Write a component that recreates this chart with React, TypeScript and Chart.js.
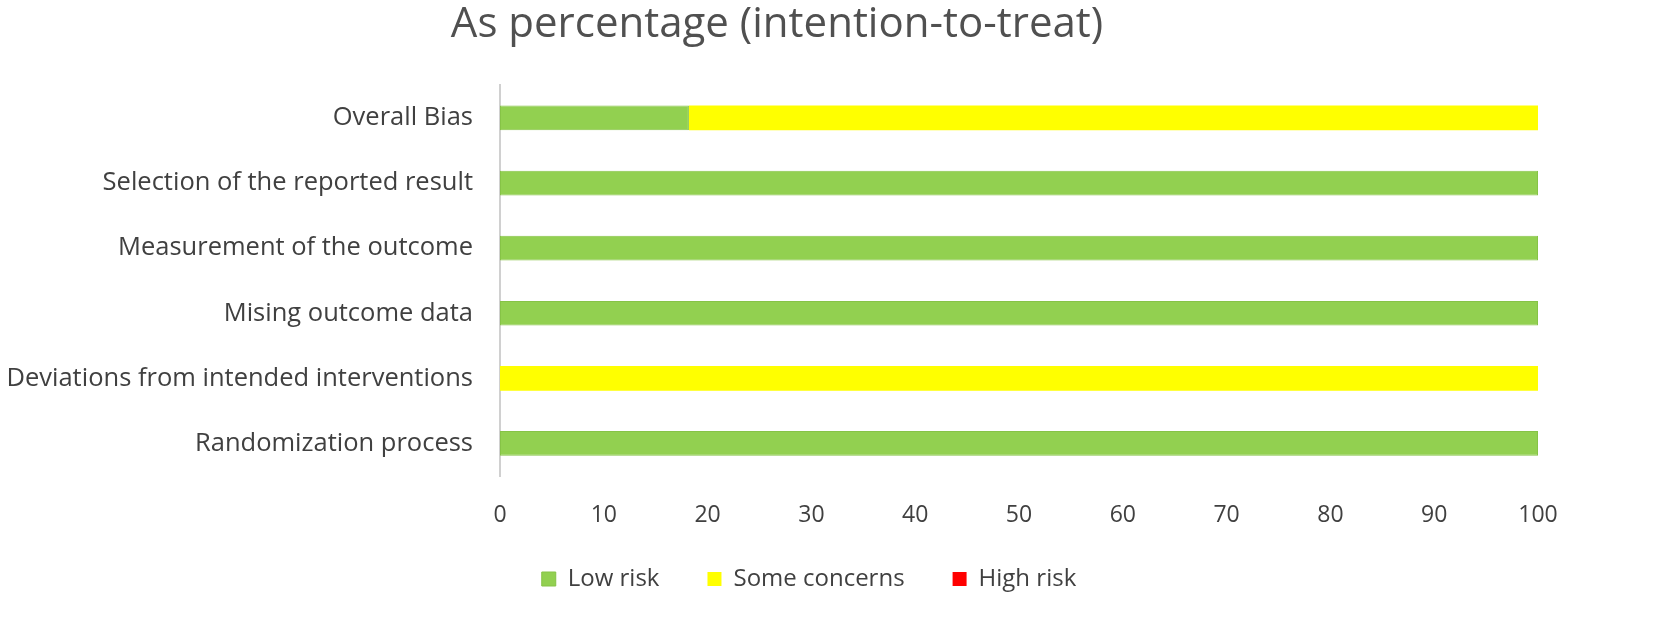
import React, { useEffect, useRef } from "react";
import { Chart, registerables } from "chart.js";

Chart.register(...registerables);

const categories = [
  "Overall Bias",
  "Selection of the reported result",
  "Measurement of the outcome",
  "Mising outcome data",
  "Deviations from intended interventions",
  "Randomization process",
];
const lowRisk = [18.2, 100, 100, 100, 0, 100];
const someConcerns = [81.8, 0, 0, 0, 100, 0];
const highRisk = [0, 0, 0, 0, 0, 0];
const xTicks = [0, 10, 20, 30, 40, 50, 60, 70, 80, 90, 100];

const FONT = "'Open Sans', sans-serif";
const TEXT = "#404040";

const boxShift = {
  id: "boxShift",
  afterLayout(chart: any) {
    const l = chart.legend;
    if (l) {
      l.top -= 17;
      l.bottom -= 17;
      l.left += 40;
      l.right += 40;
    }
    const t = chart.titleBlock;
    if (t) {
      t.left += 8;
      t.right += 8;
    }
  },
};

export default function App() {
  const ref = useRef<HTMLCanvasElement | null>(null);
  useEffect(() => {
    if (!ref.current) return;
    const chart = new Chart(ref.current, {
      type: "bar",
      data: {
        labels: categories,
        datasets: [
          { label: "Low risk", data: lowRisk, backgroundColor: "#92D050", borderColor: "#86c346", borderWidth: 1, borderSkipped: false },
          { label: "Some concerns", data: someConcerns, backgroundColor: "#FFFF00", borderWidth: 0 },
          { label: "High risk", data: highRisk, backgroundColor: "#FF0000", borderWidth: 0 },
        ],
      },
      plugins: [boxShift],
      options: {
        indexAxis: "y",
        animation: false,
        responsive: false,
        devicePixelRatio: 1,
        layout: { padding: { left: 0, right: 116, top: 0, bottom: 9 } },
        datasets: { bar: { categoryPercentage: 1, barPercentage: 0.38 } },
        scales: {
          x: {
            stacked: true,
            min: 0,
            max: 100,
            grid: { display: false, drawTicks: false },
            border: { display: false },
            afterBuildTicks: (s: any) => {
              s.ticks = xTicks.map((v) => ({ value: v }));
            },
            ticks: { color: TEXT, font: { family: FONT, size: 23 }, padding: 26, maxRotation: 0 },
            afterFit: (s: any) => {
              s.height = 60;
            },
          },
          y: {
            stacked: true,
            grid: { display: false, drawTicks: false },
            border: { display: true, color: "#d0d0d0", width: 2 },
            ticks: { color: TEXT, font: { family: FONT, size: 25.5 }, padding: 27 },
            afterFit: (s: any) => {
              s.width = 500;
            },
          },
        },
        plugins: {
          title: {
            display: true,
            text: "As percentage (intention-to-treat)",
            color: "#505050",
            font: { family: FONT, size: 42, weight: "normal" },
            padding: { top: 0, bottom: 35 },
          },
          legend: {
            position: "bottom",
            labels: {
              color: TEXT,
              font: { family: FONT, size: 24 },
              boxWidth: 14,
              boxHeight: 14,
              padding: 48,
            },
          },
          tooltip: { enabled: false },
        },
      },
    });
    return () => chart.destroy();
  }, []);
  return (
    <div style={{ position: "absolute", left: 0, top: 0, width: 1654, height: 627, background: "#fff" }}>
      <canvas ref={ref} width={1654} height={627} style={{ width: 1654, height: 627 }} />
    </div>
  );
}
